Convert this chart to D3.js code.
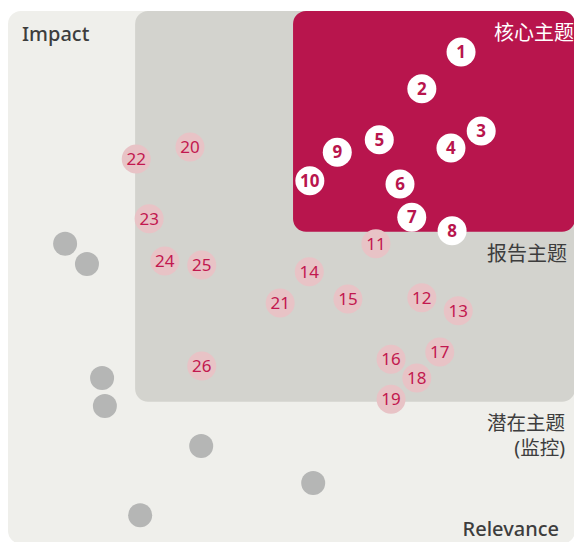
<!DOCTYPE html>
<html>
<head>
<meta charset="utf-8">
<script src="https://cdn.jsdelivr.net/npm/d3@7"></script>
<style>
  body { margin: 0; background: #fff; }
  svg text { font-family: "Noto Sans", "Noto Sans CJK SC", sans-serif; }
</style>
</head>
<body>
<svg id="chart"></svg>
<script>
// Set chart dimensions
var width = 574;
var height = 542;

// data: relevance (x) and impact (y), both 0-100
var coreIds = [1, 2, 3, 4, 5, 6, 7, 8, 9, 10];
var coreRelevance = [80.9, 73.9, 84.5, 79.1, 66.3, 70.0, 72.1, 79.3, 58.8, 53.9];
var coreImpact = [93.1, 86.0, 77.9, 74.6, 76.2, 67.7, 61.3, 58.7, 73.8, 68.3];

var reportIds = [11, 12, 13, 14, 15, 16, 17, 18, 19, 20, 21, 22, 23, 24, 25, 26];
var reportRelevance = [65.7, 73.9, 80.4, 53.8, 60.7, 68.4, 77.1, 73.0, 68.4, 32.5, 48.6, 22.9, 25.2, 28.0, 34.6, 34.6];
var reportImpact = [56.2, 45.8, 43.3, 50.8, 45.6, 34.0, 35.4, 30.4, 26.3, 74.8, 44.8, 72.5, 61.0, 52.9, 52.1, 32.7];

var otherRelevance = [10.2, 14.1, 16.8, 17.3, 34.5, 54.5, 23.6];
var otherImpact = [56.2, 52.3, 30.4, 25.0, 17.3, 10.2, 4.0];

// zone thresholds (same units)
var zoneNames = ['潜在主题', '报告主题', '核心主题'];
var zoneRelevance = [0, 22.7, 50.9];
var zoneImpact = [-1.5, 25.8, 58.5];

var scaleX = d3.scaleLinear().domain([0, 100]).range([8, 568]);
var scaleY = d3.scaleLinear().domain([0, 100]).range([536, 16]);

var svg = d3.select('#chart')
  .attr('width', width)
  .attr('height', height);

// background zones
var zoneColors = ['#efefeb', '#d3d3ce', '#b8154d'];
var zoneTop = 11; // note: "top" is taken by window.top
svg.selectAll('rect.zone')
  .data(zoneNames)
  .enter()
  .append('rect')
    .attr('class', 'zone')
    .attr('x', (d, i) => scaleX(zoneRelevance[i]))
    .attr('y', zoneTop)
    .attr('width', (d, i) => 575 - scaleX(zoneRelevance[i]))
    .attr('height', (d, i) => scaleY(zoneImpact[i]) - zoneTop)
    .attr('rx', 13)
    .attr('fill', (d, i) => zoneColors[i]);

// not material topics (grey dots)
svg.selectAll('circle.other')
  .data(otherRelevance)
  .enter()
  .append('circle')
    .attr('class', 'other')
    .attr('cx', d => scaleX(d))
    .attr('cy', (d, i) => scaleY(otherImpact[i]))
    .attr('r', 12)
    .attr('fill', '#b5b6b5');

// reporting topics
var report = svg.selectAll('g.report')
  .data(reportIds)
  .enter()
  .append('g')
    .attr('class', 'report')
    .attr('transform', (d, i) => 'translate(' + scaleX(reportRelevance[i]) + ',' + scaleY(reportImpact[i]) + ')');

report.append('circle')
  .attr('r', 14.5)
  .attr('fill', '#e8c3c6');

report.append('text')
  .attr('dy', '0.36em')
  .style('text-anchor', 'middle')
  .style('font-size', '17px')
  .attr('fill', '#c2184f')
  .text(d => d);

// core topics
var core = svg.selectAll('g.core')
  .data(coreIds)
  .enter()
  .append('g')
    .attr('class', 'core')
    .attr('transform', (d, i) => 'translate(' + scaleX(coreRelevance[i]) + ',' + scaleY(coreImpact[i]) + ')');

core.append('circle')
  .attr('r', 14.5)
  .attr('fill', '#fff');

core.append('text')
  .attr('dy', '0.36em')
  .style('text-anchor', 'middle')
  .style('font-size', '17px')
  .style('font-weight', 'bold')
  .attr('fill', '#b8154d')
  .text(d => d);

// axis labels
svg.append('text')
  .attr('x', 22)
  .attr('y', 40.5)
  .style('font-size', '20px')
  .style('font-weight', 500)
  .attr('fill', '#3d3d3d')
  .text('Impact');

svg.append('text')
  .attr('x', 559)
  .attr('y', 536)
  .style('text-anchor', 'end')
  .style('font-size', '20px')
  .style('font-weight', 500)
  .attr('fill', '#3d3d3d')
  .text('Relevance');

// zone labels
svg.append('text')
  .attr('x', 574)
  .attr('y', 40)
  .style('text-anchor', 'end')
  .style('font-size', '20px')
  .attr('fill', '#fff')
  .text(zoneNames[2]);

svg.append('text')
  .attr('x', 567)
  .attr('y', 261)
  .style('text-anchor', 'end')
  .style('font-size', '20px')
  .attr('fill', '#3d3d3d')
  .text(zoneNames[1]);

svg.append('text')
  .attr('x', 565)
  .attr('y', 430)
  .style('text-anchor', 'end')
  .style('font-size', '19.5px')
  .attr('fill', '#3d3d3d')
  .text(zoneNames[0]);

svg.append('text')
  .attr('x', 565)
  .attr('y', 455)
  .style('text-anchor', 'end')
  .style('font-size', '19.5px')
  .attr('fill', '#3d3d3d')
  .text('(监控)');
</script>
</body>
</html>
